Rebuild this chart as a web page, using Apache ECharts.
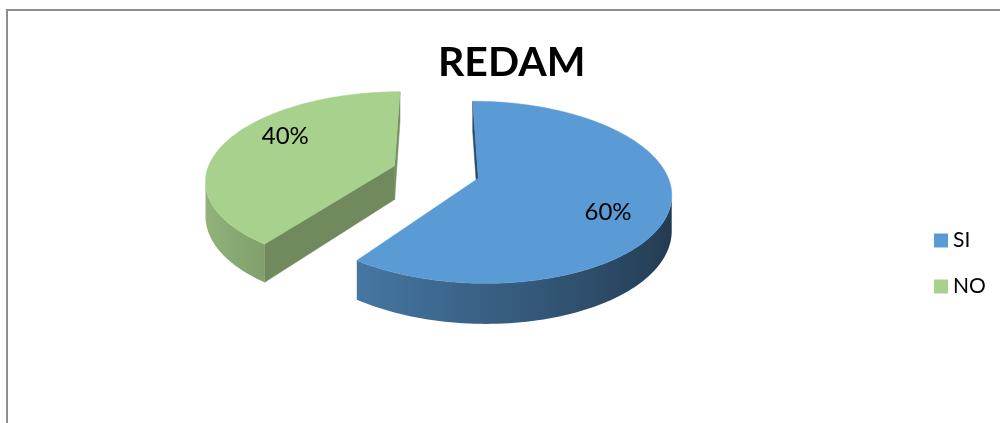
<!DOCTYPE html>
<html>
<head>
<meta charset="utf-8">
<title>REDAM</title>
<script src="https://cdn.jsdelivr.net/npm/echarts@6/dist/echarts.min.js"></script>
<style>
  html, body { margin: 0; padding: 0; background: #ffffff; }
  #chart { width: 1000px; height: 423px; }
</style>
</head>
<body>
<div id="chart"></div>
<script>
// datos del grafico
const categories = ['SI', 'NO'];
const values = [60, 40];
const colors = ['#5B9BD5', '#A9D18E'];

// parametros de la "vista 3D" (proyeccion de la torta)
const CX = 436, CY = 172;     // centro de la torta en pantalla
const RX = 188, RY = 87;      // radios de la elipse
const PERSP = 0.151;          // perspectiva (frente mas grande)
const DEPTH = 34;             // grosor
const EXPLODE = 0.234;        // separacion de las porciones
const LABEL_R = 0.73, LABEL_SHIFT = 12 * Math.PI / 180;

const total = values.reduce((a, b) => a + b, 0);
const starts = values.map((v, i) => values.slice(0, i).reduce((a, b) => a + b, 0));

function proj(X, Z, down) {
  const s = 1 / (1 - PERSP * Z);
  return [CX + RX * X * s, CY + RY * Z * s + (down ? DEPTH * s : 0)];
}

function shade(hex, f) {
  const n = parseInt(hex.slice(1), 16);
  const r = Math.round(((n >> 16) & 255) * f);
  const g = Math.round(((n >> 8) & 255) * f);
  const b = Math.round((n & 255) * f);
  return 'rgb(' + r + ',' + g + ',' + b + ')';
}

function renderSlice(idx) {
  return function (params, api) {
    const start = api.value(0), v = api.value(1);
    const color = colors[idx];
    const th0 = start / total * Math.PI * 2;
    const th1 = (start + v) / total * Math.PI * 2;
    const mid = (th0 + th1) / 2;
    const oX = EXPLODE * Math.sin(mid), oZ = -EXPLODE * Math.cos(mid);
    const camZ = 1 / PERSP;
    const rim = (t) => [oX + Math.sin(t), oZ - Math.cos(t)];
    const seen = (n, p) => n[0] * (0 - p[0]) + n[1] * (camZ - p[1]) > 0;

    const steps = Math.max(8, Math.ceil((th1 - th0) / (Math.PI / 120)));
    const samples = [];
    for (let k = 0; k <= steps; k++) samples.push(th0 + (th1 - th0) * k / steps);

    const children = [];

    // caras radiales (cortes)
    const faces = [
      { t: th0, n: [-Math.cos(th0), -Math.sin(th0)] },
      { t: th1, n: [Math.cos(th1), Math.sin(th1)] }
    ];
    faces.forEach(function (fc) {
      const r = rim(fc.t);
      const m = [(oX + r[0]) / 2, (oZ + r[1]) / 2];
      if (!seen(fc.n, m)) return;
      const pts = [proj(oX, oZ, false), proj(r[0], r[1], false), proj(r[0], r[1], true), proj(oX, oZ, true)];
      children.push({
        type: 'polygon',
        shape: { points: pts },
        style: { fill: shade(color, 0.58 + 0.1 * fc.n[0]), stroke: shade(color, 0.58 + 0.1 * fc.n[0]), lineWidth: 0.5 }
      });
    });

    // pared exterior visible
    let run = [];
    const runs = [];
    samples.forEach(function (t) {
      const p = rim(t);
      if (seen([Math.sin(t), -Math.cos(t)], p)) run.push(t);
      else if (run.length) { runs.push(run); run = []; }
    });
    if (run.length) runs.push(run);
    runs.forEach(function (r) {
      if (r.length < 2) return;
      const top = r.map(t => { const p = rim(t); return proj(p[0], p[1], false); });
      const bot = r.map(t => { const p = rim(t); return proj(p[0], p[1], true); }).reverse();
      const xs = top.map(p => p[0]);
      const xmin = Math.min.apply(null, xs), xmax = Math.max.apply(null, xs);
      const stops = r.map((t, k) => ({
        offset: Math.min(1, Math.max(0, (top[k][0] - xmin) / (xmax - xmin || 1))),
        color: shade(color, 0.62 - 0.25 * Math.sin(t))
      })).sort((a, b) => a.offset - b.offset);
      children.push({
        type: 'polygon',
        shape: { points: top.concat(bot) },
        style: {
          fill: { type: 'linear', x: xmin, y: 0, x2: xmax, y2: 0, global: true, colorStops: stops }
        }
      });
    });

    // cara superior
    const topPts = [proj(oX, oZ, false)].concat(samples.map(t => { const p = rim(t); return proj(p[0], p[1], false); }));
    children.push({
      type: 'polygon',
      shape: { points: topPts },
      style: { fill: color, stroke: color, lineWidth: 0.5 }
    });

    // etiqueta de porcentaje
    const la = mid + LABEL_SHIFT;
    const lp = proj(oX + LABEL_R * Math.sin(la), oZ - LABEL_R * Math.cos(la), false);
    children.push({
      type: 'text',
      x: lp[0], y: lp[1],
      style: {
        text: Math.round(v / total * 100) + '%',
        fill: '#000000',
        font: '24px Lato',
        align: 'center',
        verticalAlign: 'middle'
      }
    });

    return { type: 'group', children: children };
  };
}

var myChart = echarts.init(document.getElementById('chart'), null, { renderer: 'canvas' });

// la porcion de atras se dibuja primero
const drawOrder = categories.map((c, i) => i).reverse();

myChart.setOption({
  animation: false,
  title: {
    text: 'REDAM',
    left: 438,
    top: 42,
    padding: 0,
    textStyle: { fontFamily: 'Lato', fontWeight: 'bold', fontSize: 41, color: '#000000' }
  },
  legend: {
    data: categories,
    orient: 'vertical',
    left: 929,
    top: 225,
    icon: 'rect',
    itemWidth: 14,
    itemHeight: 14,
    itemGap: 25,
    selectedMode: false,
    textStyle: { fontFamily: 'Lato', fontSize: 21, color: '#000000' }
  },
  graphic: [{
    type: 'polyline',
    shape: { points: [[7, 423], [7, 10], [1000, 10]] },
    style: { stroke: '#8e8e8e', lineWidth: 2, fill: null }
  }],
  series: drawOrder.map(i => ({
    type: 'custom',
    name: categories[i],
    coordinateSystem: 'none',
    itemStyle: { color: colors[i] },
    renderItem: renderSlice(i),
    data: [[starts[i], values[i]]]
  }))
});
</script>
</body>
</html>
